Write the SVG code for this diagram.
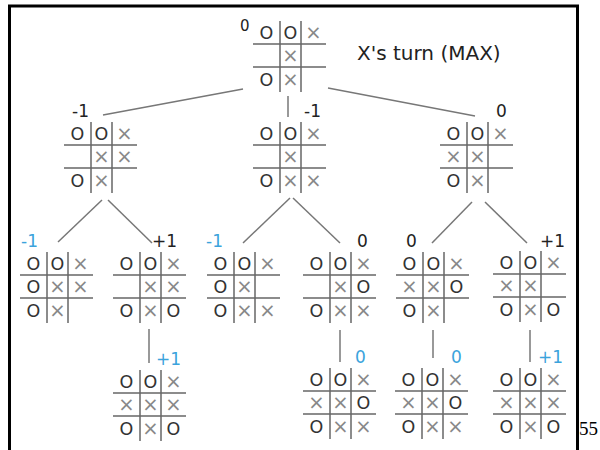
<svg xmlns="http://www.w3.org/2000/svg" xmlns:xlink="http://www.w3.org/1999/xlink" width="600" height="450" viewBox="0 0 600 450">
<style>
.o{font-family:"DejaVu Sans",Verdana,sans-serif;font-size:17.5px;fill:#333;text-anchor:middle}
.x{font-family:"DejaVu Sans",Verdana,sans-serif;font-size:19.5px;fill:#888;text-anchor:middle}
.lab{font-family:"DejaVu Sans",Verdana,sans-serif;font-size:17px;fill:#222}
.blue{fill:#3ba3dc}
.grid line{stroke:#666;stroke-width:1.5}
.conn line{stroke:#777;stroke-width:1.5}
</style>
<defs>
<g id="grid" class="grid">
<line x1="27" y1="0" x2="27" y2="71"/>
<line x1="48" y1="0" x2="48" y2="71"/>
<line x1="0" y1="23" x2="73" y2="23"/>
<line x1="0" y1="46" x2="73" y2="46"/>
</g>
</defs>
<rect width="600" height="450" fill="#fff"/>
<path d="M9.5,450 V6 H577.5 V450" fill="none" stroke="#000" stroke-width="3"/>

<g id="connectors" class="conn">
<line x1="243" y1="89" x2="103" y2="115"/>
<line x1="288" y1="96" x2="288" y2="117"/>
<line x1="328" y1="88" x2="475" y2="116"/>
<line x1="102" y1="200" x2="58" y2="242"/>
<line x1="108" y1="200" x2="152" y2="243"/>
<line x1="290" y1="198" x2="243" y2="243"/>
<line x1="293" y1="198" x2="340" y2="243"/>
<line x1="472" y1="202" x2="432" y2="243"/>
<line x1="485" y1="202" x2="527" y2="243"/>
<line x1="149" y1="329" x2="149" y2="363"/>
<line x1="340" y1="330" x2="340" y2="362"/>
<line x1="433" y1="330" x2="433" y2="358"/>
<line x1="530" y1="330" x2="530" y2="362"/>
</g>

<g id="root">
<g transform="translate(253,21)">
<use xlink:href="#grid"/>
<text class="o" x="13.5" y="18">O</text><text class="o" x="37.5" y="18">O</text><text class="x" x="60.5" y="18">×</text>
<text class="x" x="37.5" y="41">×</text>
<text class="o" x="13.5" y="65">O</text><text class="x" x="37.5" y="65">×</text>
</g>
<text class="lab" x="240" y="31" style="font-size:15px">0</text>
<text class="lab" x="357" y="60" style="font-size:20px">X's turn (MAX)</text>
</g>

<g id="n-l">
<g transform="translate(64,122)">
<use xlink:href="#grid"/>
<text class="o" x="13.5" y="18">O</text><text class="o" x="37.5" y="18">O</text><text class="x" x="60.5" y="18">×</text>
<text class="x" x="37.5" y="41">×</text><text class="x" x="60.5" y="41">×</text>
<text class="o" x="13.5" y="65">O</text><text class="x" x="37.5" y="65">×</text>
</g>
<text class="lab" x="72" y="117">-1</text>
</g>

<g id="n-m">
<g transform="translate(253,122)">
<use xlink:href="#grid"/>
<text class="o" x="13.5" y="18">O</text><text class="o" x="37.5" y="18">O</text><text class="x" x="60.5" y="18">×</text>
<text class="x" x="37.5" y="41">×</text>
<text class="o" x="13.5" y="65">O</text><text class="x" x="37.5" y="65">×</text><text class="x" x="60.5" y="65">×</text>
</g>
<text class="lab" x="304" y="117">-1</text>
</g>

<g id="n-r">
<g transform="translate(440,122)">
<use xlink:href="#grid"/>
<text class="o" x="13.5" y="18">O</text><text class="o" x="37.5" y="18">O</text><text class="x" x="60.5" y="18">×</text>
<text class="x" x="13.5" y="41">×</text><text class="x" x="37.5" y="41">×</text>
<text class="o" x="13.5" y="65">O</text><text class="x" x="37.5" y="65">×</text>
</g>
<text class="lab" x="496" y="117">0</text>
</g>

<g id="n-ll">
<g transform="translate(20,252)">
<use xlink:href="#grid"/>
<text class="o" x="13.5" y="18">O</text><text class="o" x="37.5" y="18">O</text><text class="x" x="60.5" y="18">×</text>
<text class="o" x="13.5" y="41">O</text><text class="x" x="37.5" y="41">×</text><text class="x" x="60.5" y="41">×</text>
<text class="o" x="13.5" y="65">O</text><text class="x" x="37.5" y="65">×</text>
</g>
<text class="lab blue" x="21" y="247">-1</text>
</g>

<g id="n-lr">
<g transform="translate(113,252)">
<use xlink:href="#grid"/>
<text class="o" x="13.5" y="18">O</text><text class="o" x="37.5" y="18">O</text><text class="x" x="60.5" y="18">×</text>
<text class="x" x="37.5" y="41">×</text><text class="x" x="60.5" y="41">×</text>
<text class="o" x="13.5" y="65">O</text><text class="x" x="37.5" y="65">×</text><text class="o" x="60.5" y="65">O</text>
</g>
<text class="lab" x="152" y="247">+1</text>
</g>

<g id="n-ml">
<g transform="translate(207,252)">
<use xlink:href="#grid"/>
<text class="o" x="13.5" y="18">O</text><text class="o" x="37.5" y="18">O</text><text class="x" x="60.5" y="18">×</text>
<text class="o" x="13.5" y="41">O</text><text class="x" x="37.5" y="41">×</text>
<text class="o" x="13.5" y="65">O</text><text class="x" x="37.5" y="65">×</text><text class="x" x="60.5" y="65">×</text>
</g>
<text class="lab blue" x="206" y="247">-1</text>
</g>

<g id="n-mr">
<g transform="translate(303,252)">
<use xlink:href="#grid"/>
<text class="o" x="13.5" y="18">O</text><text class="o" x="37.5" y="18">O</text><text class="x" x="60.5" y="18">×</text>
<text class="x" x="37.5" y="41">×</text><text class="o" x="60.5" y="41">O</text>
<text class="o" x="13.5" y="65">O</text><text class="x" x="37.5" y="65">×</text><text class="x" x="60.5" y="65">×</text>
</g>
<text class="lab" x="357" y="247">0</text>
</g>

<g id="n-rl">
<g transform="translate(396,252)">
<use xlink:href="#grid"/>
<text class="o" x="13.5" y="18">O</text><text class="o" x="37.5" y="18">O</text><text class="x" x="60.5" y="18">×</text>
<text class="x" x="13.5" y="41">×</text><text class="x" x="37.5" y="41">×</text><text class="o" x="60.5" y="41">O</text>
<text class="o" x="13.5" y="65">O</text><text class="x" x="37.5" y="65">×</text>
</g>
<text class="lab" x="406" y="247">0</text>
</g>

<g id="n-rr">
<g transform="translate(493,251)">
<use xlink:href="#grid"/>
<text class="o" x="13.5" y="18">O</text><text class="o" x="37.5" y="18">O</text><text class="x" x="60.5" y="18">×</text>
<text class="x" x="13.5" y="41">×</text><text class="x" x="37.5" y="41">×</text>
<text class="o" x="13.5" y="65">O</text><text class="x" x="37.5" y="65">×</text><text class="o" x="60.5" y="65">O</text>
</g>
<text class="lab" x="540" y="247">+1</text>
</g>

<g id="n-lr-1">
<g transform="translate(113,370)">
<use xlink:href="#grid"/>
<text class="o" x="13.5" y="18">O</text><text class="o" x="37.5" y="18">O</text><text class="x" x="60.5" y="18">×</text>
<text class="x" x="13.5" y="41">×</text><text class="x" x="37.5" y="41">×</text><text class="x" x="60.5" y="41">×</text>
<text class="o" x="13.5" y="65">O</text><text class="x" x="37.5" y="65">×</text><text class="o" x="60.5" y="65">O</text>
</g>
<text class="lab blue" x="156" y="365">+1</text>
</g>

<g id="n-mr-1">
<g transform="translate(303,368)">
<use xlink:href="#grid"/>
<text class="o" x="13.5" y="18">O</text><text class="o" x="37.5" y="18">O</text><text class="x" x="60.5" y="18">×</text>
<text class="x" x="13.5" y="41">×</text><text class="x" x="37.5" y="41">×</text><text class="o" x="60.5" y="41">O</text>
<text class="o" x="13.5" y="65">O</text><text class="x" x="37.5" y="65">×</text><text class="x" x="60.5" y="65">×</text>
</g>
<text class="lab blue" x="355" y="363">0</text>
</g>

<g id="n-rl-1">
<g transform="translate(395,368)">
<use xlink:href="#grid"/>
<text class="o" x="13.5" y="18">O</text><text class="o" x="37.5" y="18">O</text><text class="x" x="60.5" y="18">×</text>
<text class="x" x="13.5" y="41">×</text><text class="x" x="37.5" y="41">×</text><text class="o" x="60.5" y="41">O</text>
<text class="o" x="13.5" y="65">O</text><text class="x" x="37.5" y="65">×</text><text class="x" x="60.5" y="65">×</text>
</g>
<text class="lab blue" x="451" y="363">0</text>
</g>

<g id="n-rr-1">
<g transform="translate(493,368)">
<use xlink:href="#grid"/>
<text class="o" x="13.5" y="18">O</text><text class="o" x="37.5" y="18">O</text><text class="x" x="60.5" y="18">×</text>
<text class="x" x="13.5" y="41">×</text><text class="x" x="37.5" y="41">×</text><text class="x" x="60.5" y="41">×</text>
<text class="o" x="13.5" y="65">O</text><text class="x" x="37.5" y="65">×</text><text class="o" x="60.5" y="65">O</text>
</g>
<text class="lab blue" x="538" y="363">+1</text>
</g>

<text x="579" y="435" style="font-family:'Liberation Serif','Times New Roman',serif;font-size:19px;fill:#000">55</text>
</svg>
